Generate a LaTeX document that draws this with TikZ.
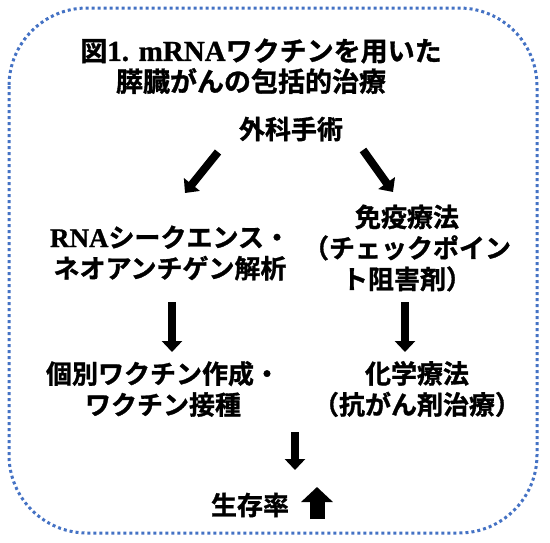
\documentclass[tikz,border=0pt]{standalone}
\usepackage{fontspec}
\newfontfamily\cjk{Noto Sans CJK JP Bold}[FakeBold=1.2]
\newfontfamily\lat{Liberation Serif Bold}[FakeBold=1.0]
\usetikzlibrary{arrows.meta}
\definecolor{frameblue}{HTML}{4472C4}
\tikzset{
  lbl/.style={align=center, inner sep=0pt, font=\cjk\fontsize{26}{31}\selectfont},
  titlelbl/.style={align=center, inner sep=0pt, font=\cjk\fontsize{27}{30}\selectfont},
  thinarrow/.style={line width=8pt, -{Triangle[width=20pt,length=11pt]}},
  bigarrow/.style={line width=15pt, -{Triangle[width=31pt,length=15pt]}},
  frame/.style={draw=frameblue, line width=3pt, dash pattern=on 3pt off 3pt, rounded corners=78pt}
}
\begin{document}
\begin{tikzpicture}[x=1pt,y=1pt]
\useasboundingbox (0,0) rectangle (550,-542);
\draw[frame] (9,-8) rectangle (537,-533);
\node[titlelbl] (title1) at (261,-51) {図{\lat\fontsize{29}{30}\selectfont 1. mRNA}ワクチンを用いた};
\node[titlelbl] (title2) at (251,-81) {膵臓がんの包括的治療};
\node[lbl] (surgery) at (291,-129) {外科手術};
\node[lbl] (seq) at (170,-253) {{\lat\fontsize{27}{31}\selectfont RNA}シークエンス・\\ネオアンチゲン解析};
\node[lbl] (immuno) at (407,-248) {免疫療法\\（チェックポイン\\ト阻害剤）};
\node[lbl] (vaccine) at (163,-389) {個別ワクチン作成・\\ワクチン接種};
\node[lbl] (chemo) at (417,-389) {化学療法\\（抗がん剤治療）};
\node[lbl] (surv) at (250,-505) {生存率};
\coordinate (a1s) at (218,-152);
\coordinate (a1e) at (185,-193);
\coordinate (a2s) at (363,-150);
\coordinate (a2e) at (393,-192);
\coordinate (a3s) at (172,-302);
\coordinate (a3e) at (172,-352);
\coordinate (a4s) at (405,-302);
\coordinate (a4e) at (405,-352);
\coordinate (a5s) at (295,-432);
\coordinate (a5e) at (295,-470);
\coordinate (ups) at (317,-519);
\coordinate (upe) at (317,-487);
\draw[thinarrow] (a1s) -- (a1e);
\draw[thinarrow] (a2s) -- (a2e);
\draw[thinarrow] (a3s) -- (a3e);
\draw[thinarrow] (a4s) -- (a4e);
\draw[thinarrow] (a5s) -- (a5e);
\draw[bigarrow] (ups) -- (upe);
\end{tikzpicture}
\end{document}
